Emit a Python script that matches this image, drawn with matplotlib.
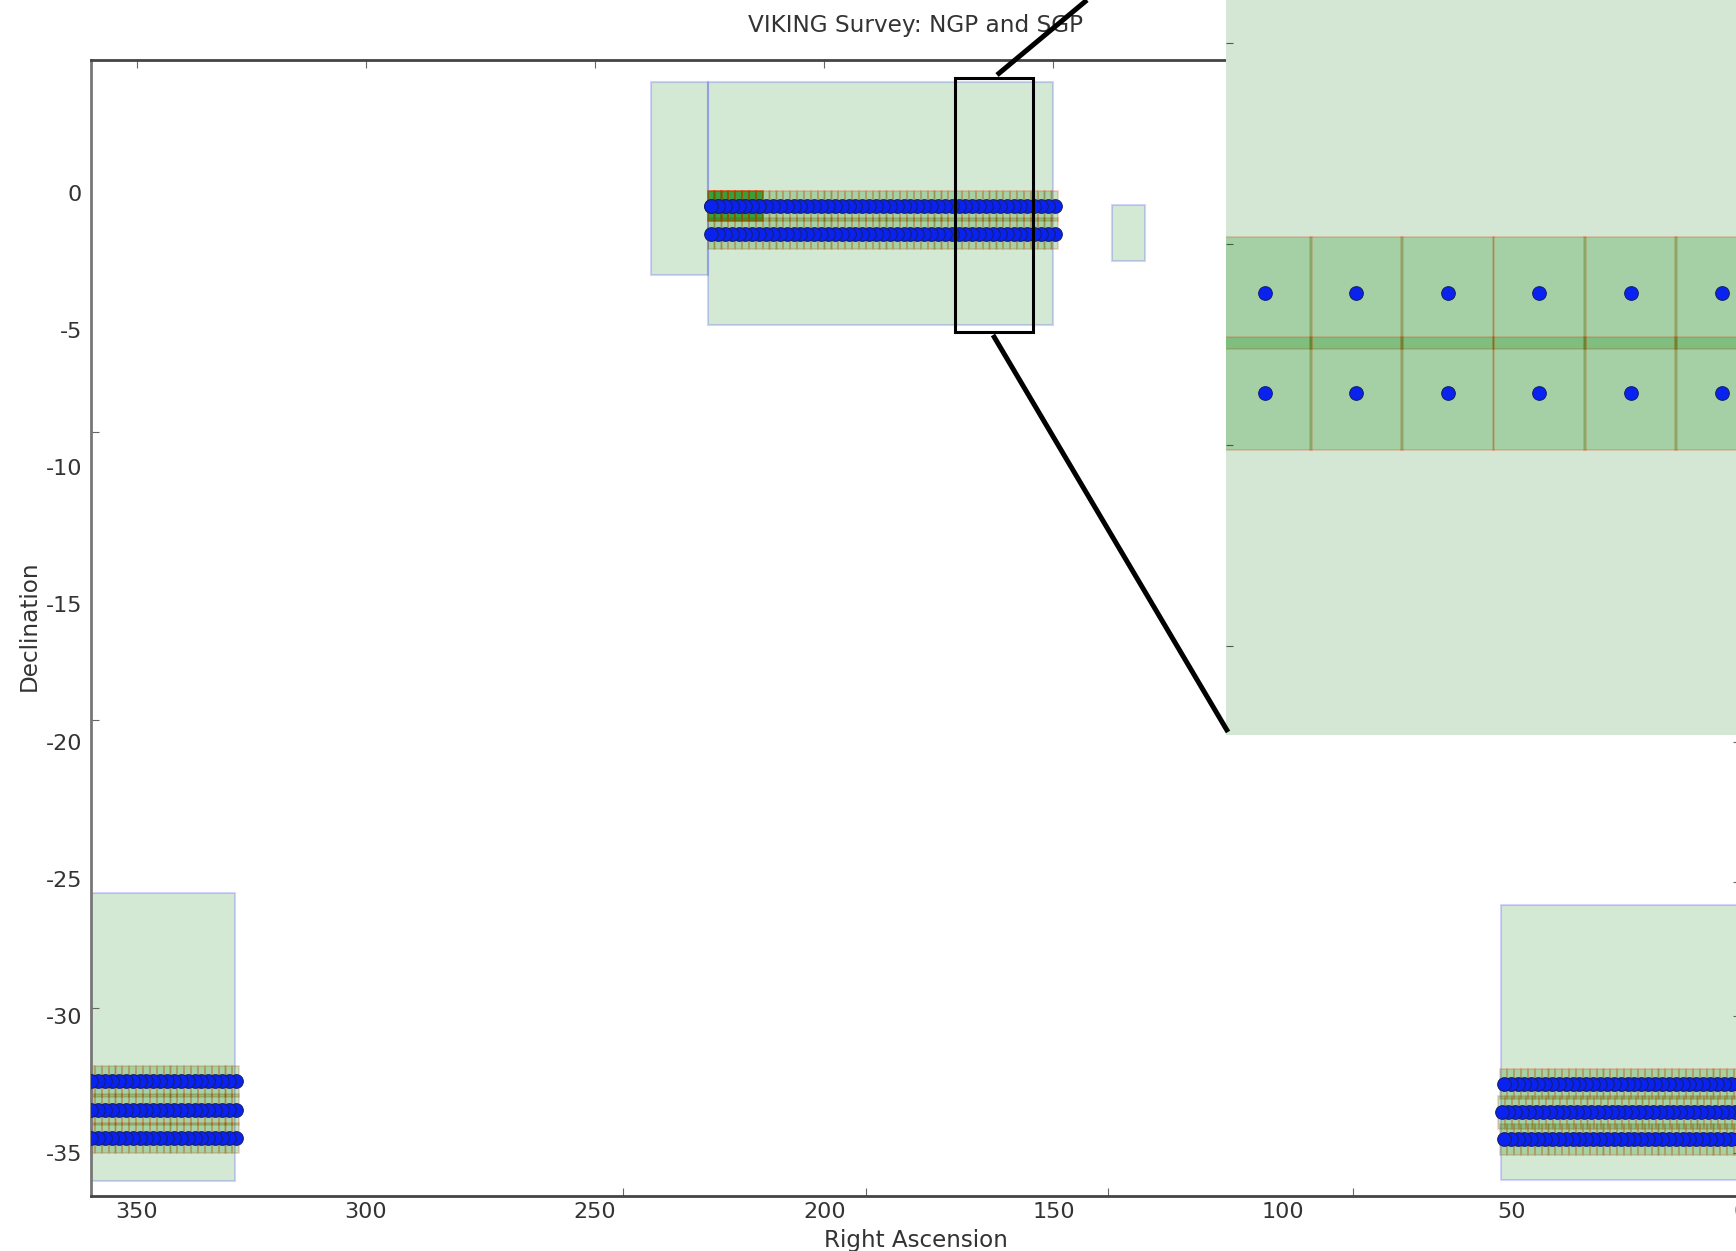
import matplotlib
matplotlib.use("Agg")
from matplotlib import pyplot as plt
from matplotlib.lines import Line2D
from matplotlib.patches import Rectangle

plt.rcParams["axes.unicode_minus"] = False

W, H = 1736, 1251

# survey fields: ra_low, ra_high, dec_low, dec_high
fields = [
    (150.0, 225.4, -4.83, 4.03),
    (225.4, 237.8, -3.0, 4.03),
    (130.1, 137.3, -2.49, -0.45),
    (328.5, 360.0, -36.0, -25.5),
    (0.0, 52.4, -35.95, -25.95),
]

# pointing centres
ngp_ra = [149.7, 151.2, 152.7, 154.2, 155.7, 157.2, 158.7, 160.2, 161.7, 163.2, 164.7, 166.2, 167.7,
          169.2, 170.7, 172.2, 173.7, 175.2, 176.7, 178.2, 179.7, 181.2, 182.7, 184.2, 185.7, 187.2,
          188.7, 190.2, 191.7, 193.2, 194.7, 196.2, 197.7, 199.2, 200.7, 202.2, 203.7, 205.2, 206.7,
          208.2, 209.7, 211.2, 212.7, 214.2, 215.7, 217.2, 218.7, 220.2, 221.7, 223.2, 224.7]
ngp_dec = [-0.49, -1.49]
dense_ra = [214.2, 215.7, 217.2, 218.7, 220.2, 221.7, 223.2, 224.7]
dense_dec = -0.49
sgp_left_ra = [328.4, 329.9, 331.4, 332.9, 334.4, 335.9, 337.4, 338.9, 340.4, 341.9, 343.4, 344.9, 346.4,
               347.9, 349.4, 350.9, 352.4, 353.9, 355.4, 356.9, 358.4, 359.9]
sgp_left_dec = [-32.37, -33.4, -34.44]
sgp_right_ra = [0.75, 2.25, 3.75, 5.25, 6.75, 8.25, 9.75, 11.25, 12.75, 14.25, 15.75, 17.25, 18.75, 20.25,
                21.75, 23.25, 24.75, 26.25, 27.75, 29.25, 30.75, 32.25, 33.75, 35.25, 36.75, 38.25,
                39.75, 41.25, 42.75, 44.25, 45.75, 47.25, 48.75, 50.25, 51.75]
sgp_mid_ra = [1.25, 2.75, 4.25, 5.75, 7.25, 8.75, 10.25, 11.75, 13.25, 14.75, 16.25, 17.75, 19.25, 20.75,
              22.25, 23.75, 25.25, 26.75, 28.25, 29.75, 31.25, 32.75, 34.25, 35.75, 37.25, 38.75,
              40.25, 41.75, 43.25, 44.75, 46.25, 47.75, 49.25, 50.75, 52.25]
sgp_right_dec = [-32.47, -34.49]
sgp_mid_dec = -33.5

# axis labels and the ticks as they sit in the picture
ra_labels = [350, 300, 250, 200, 150, 100, 50, 0]
dec_labels = [0, -5, -10, -15, -20, -25, -30, -35]
bottom_ticks = [350, 244, 190.9, 138, 84.7, 50]
top_ticks = [350, 300, 250, 200, 150, 100, 50]
left_ticks = [0, -8.73, -19.2, -29.7]
right_ticks = [-20, -25.1, -30, -35]
inset_ticks = [2, 0, -2, -4]

# zoom box on the main axes: ra_low, ra_high, dec_low, dec_high
box = (154.4, 171.4, -5.08, 4.17)

TEXT = "#333333"
FIELD_COLOR = "#d4e7d4"


def px_axes(fig, left, top, right, bottom):
    return fig.add_axes([left / W, 1 - bottom / H, (right - left) / W, (bottom - top) / H])


def add_tiles(ax, ras, dec, height=1.12, width=1.53):
    for ra in ras:
        ax.add_patch(Rectangle((ra - width / 2, dec - height / 2), width, height, facecolor="green",
                               edgecolor="#d04000", alpha=0.22, linewidth=1.3, zorder=2))


def add_dots(ax, ras, dec):
    ax.plot(ras, [dec] * len(ras), "o", ms=9.8, mfc="#0a22f0", mec="#14206e", mew=0.8, ls="none", zorder=4)


# draws the tiles and pointings, used for the main axes and the inset
def draw_survey(ax):
    for dec in ngp_dec:
        add_tiles(ax, ngp_ra, dec)
    for dec in sgp_left_dec:
        add_tiles(ax, sgp_left_ra, dec)
    for dec in sgp_right_dec:
        add_tiles(ax, sgp_right_ra, dec)
    add_tiles(ax, sgp_mid_ra, sgp_mid_dec, height=1.2)
    # the first few fields were observed several times
    for i in range(4):
        add_tiles(ax, dense_ra, dense_dec)

    for dec in ngp_dec:
        add_dots(ax, ngp_ra, dec)
    add_dots(ax, dense_ra, dense_dec)
    for dec in sgp_left_dec:
        add_dots(ax, sgp_left_ra, dec)
    for dec in sgp_right_dec:
        add_dots(ax, sgp_right_ra, dec)
    add_dots(ax, sgp_mid_ra, sgp_mid_dec)


fig = plt.figure(figsize=(W / 100, H / 100), dpi=100)

ax = px_axes(fig, 91, 60, 1741, 1196)
for ra0, ra1, dec0, dec1 in fields:
    ax.add_patch(Rectangle((ra0, dec0), ra1 - ra0, dec1 - dec0, facecolor="green", edgecolor="blue",
                           alpha=0.17, linewidth=1.5, zorder=1))
draw_survey(ax)
ax.set_xlim(360, 0)
ax.set_ylim(-36.55, 4.83)
ax.add_patch(Rectangle((box[0], box[2]), box[1] - box[0], box[3] - box[2], fill=False, edgecolor="black",
                       linewidth=2.2, zorder=6))

ax.set_xticks(ra_labels)
ax.set_yticks(dec_labels)
ax.set_xticks(bottom_ticks, minor=True)
ax.set_yticks(left_ticks, minor=True)
ax.tick_params(which="major", length=0, labelsize=16, labelcolor=TEXT)
ax.tick_params(axis="x", which="major", pad=4.6)
ax.tick_params(axis="y", which="major", pad=6.5)
ax.tick_params(which="minor", length=6, width=0.8, color="#666666", direction="in")

top = ax.secondary_xaxis("top")
top.set_xticks(top_ticks)
top.set_xticklabels([])
top.tick_params(length=6, width=0.8, color="#666666", direction="in")
right = ax.secondary_yaxis("right")
right.set_yticks(right_ticks)
right.set_yticklabels([])
right.tick_params(length=6, width=0.8, color="#666666", direction="in")
for sec in (top, right):
    for spine in sec.spines.values():
        spine.set_visible(False)

for name, spine in ax.spines.items():
    spine.set_linewidth(2.0)
    spine.set_color("#777777" if name == "left" else "#444444")

ax.set_title("VIKING Survey: NGP and SGP", fontsize=16.7, color=TEXT, pad=20)
ax.set_xlabel("Right Ascension", fontsize=16.6, color=TEXT, labelpad=4.4)
ax.set_ylabel("Declination", fontsize=16.7, color=TEXT, va="center")
ax.yaxis.set_label_coords(29 / W, 1 - 626 / H, transform=fig.transFigure)

# zoomed inset, most of it runs off the picture like in the original
inset = px_axes(fig, 1226, -175, 2258, 735)
inset.set_facecolor(FIELD_COLOR)
draw_survey(inset)
inset.set_xlim(171.34, box[0])
inset.set_ylim(-4.89, box[3])
inset.set_xticks([])
inset.set_yticks(inset_ticks)
inset.set_yticklabels([])
inset.tick_params(length=5, width=0.8, color="#555555", direction="in")
for spine in inset.spines.values():
    spine.set_visible(False)

# connector lines from the box to the inset, figure pixels
for xs, ys in [((997, 1087), (75, 0)), ((993, 1228), (335, 732))]:
    fig.add_artist(Line2D([x / W for x in xs], [1 - y / H for y in ys], color="black", linewidth=3.6,
                          solid_capstyle="butt", zorder=10))

plt.savefig("out.png", dpi=100)
plt.close()
